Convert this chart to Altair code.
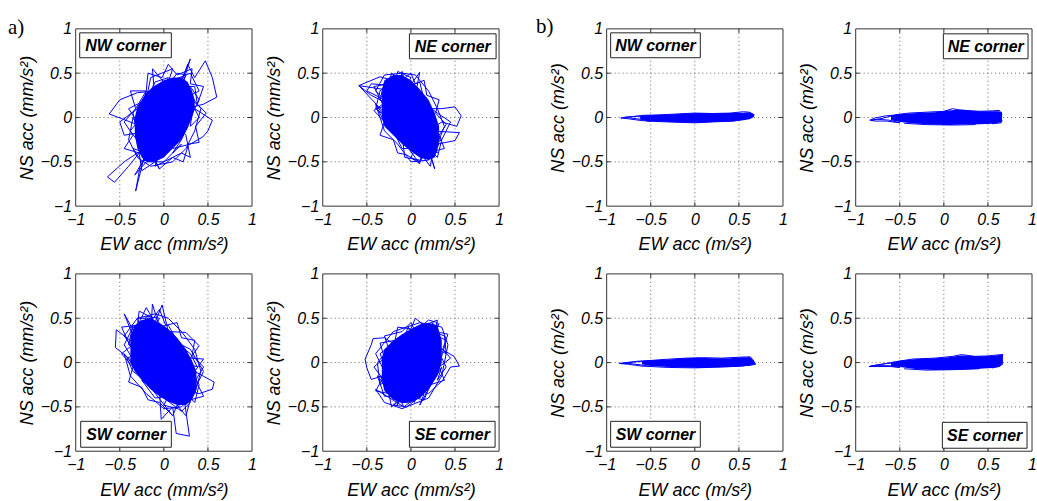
import altair as alt
import pandas as pd

# ---------------- data ----------------
tick_values = [-1, -0.5, 0, 0.5, 1]
grid_values = [-0.5, 0, 0.5]

# (a) mm/s^2 orbits  (x = EW, y = NS)
a_nw_traj = [(0.0,0.0),(0.15,0.3),(0.3,0.66),(0.22,0.4),(0.1,0.2),(-0.05,-0.1),(-0.2,-0.35),(-0.32,-0.83),
             (-0.27,-0.55),(-0.1,-0.3),(0.1,0.1),(0.27,0.6),(0.35,0.45),(0.47,0.64),(0.55,0.45),(0.6,0.23),
             (0.45,0.15),(0.25,0.1),(0.05,-0.1),(-0.15,-0.3),(-0.45,-0.5),(-0.64,-0.67),(-0.56,-0.73),(-0.4,-0.55),
             (-0.2,-0.3),(0.0,0.05),(0.15,0.2),(0.35,0.1),(0.55,-0.03),(0.5,-0.15),(0.44,-0.22),(0.3,-0.3),
             (0.1,-0.35),(-0.1,-0.25),(-0.33,-0.65),(-0.2,-0.5),(0.0,-0.5),(0.2,-0.4),(0.3,-0.45),(0.25,-0.2),
             (0.1,0.0),(-0.1,0.2),(-0.13,0.55),(0.0,0.4),(0.1,0.3),(0.2,0.45),(0.25,0.2),(0.05,-0.05),
             (-0.25,-0.1),(-0.62,0.04),(-0.5,0.2),(-0.3,0.28),(-0.1,0.3),(0.1,0.25),(0.3,0.35),(0.4,0.2),
             (0.3,0.0),(0.1,-0.2),(-0.15,-0.15),(-0.45,-0.2),(-0.5,-0.05),(-0.3,0.1),(-0.1,0.05),(0.05,0.1),
             (-0.3,-0.2),(-0.35,0.05),(-0.2,0.3),(-0.25,0.1),(-0.1,0.4),(0.05,0.45),(0.0,0.3),(0.15,0.5),
             (0.25,0.48),(0.2,0.35),(0.35,0.35),(0.38,0.15),(0.3,0.2),(0.4,0.0),(0.3,-0.1),(0.32,0.05),
             (0.2,-0.25),(0.1,-0.4),(0.2,-0.3),(0.0,-0.5),(-0.1,-0.55),(-0.05,-0.4),(-0.25,-0.5),(-0.35,-0.35),
             (-0.2,-0.4),(-0.38,-0.15),(-0.3,-0.05),(-0.4,0.1),(-0.2,0.2),(-0.15,0.45),(0.1,0.55),(0.05,0.4),
             (0.3,0.5),(0.4,0.3),(0.3,0.25),(0.42,0.1),(0.35,-0.15),(0.25,-0.35),(0.1,-0.5),(-0.15,-0.55),
             (-0.3,-0.45),(-0.4,-0.25),(-0.35,0.0),
             (-0.05,-0.58),(0.1,-0.45),(0.22,-0.5),(0.28,-0.3),(0.4,-0.28),(0.36,-0.1),(0.48,0.05),(0.38,0.15),
             (0.45,0.35),(0.3,0.38),(0.32,0.55),(0.15,0.48),(0.05,0.6),(-0.02,0.45),(-0.18,0.5),(-0.2,0.3),
             (-0.38,0.3),(-0.32,0.1),(-0.45,-0.05),(-0.35,-0.2),(-0.45,-0.35),(-0.28,-0.4),(-0.25,-0.6),(-0.1,-0.5),
             (-0.05,-0.58)]
a_nw_core_x = [-0.33, -0.3, -0.25, -0.2, -0.1, 0.0, 0.1, 0.2, 0.27, 0.32, 0.35]
a_nw_core_lo = [-0.2, -0.35, -0.45, -0.5, -0.5, -0.45, -0.35, -0.25, -0.12, 0.0, 0.1]
a_nw_core_hi = [0.0, 0.12, 0.2, 0.28, 0.36, 0.42, 0.45, 0.45, 0.4, 0.3, 0.2]

a_ne_traj = [(0.0,0.0),(-0.2,0.3),(-0.59,0.36),(-0.35,0.46),(-0.15,0.4),(0.0,0.1),(0.15,-0.2),(0.27,-0.58),
             (0.2,-0.35),(0.05,-0.1),(-0.15,0.2),(-0.1,0.52),(-0.05,0.3),(0.1,0.51),(0.05,0.25),(0.2,0.1),
             (0.35,0.1),(0.5,0.12),(0.57,0.02),(0.52,-0.1),(0.35,-0.05),(0.2,-0.15),(0.55,-0.17),(0.5,-0.26),
             (0.3,-0.3),(0.1,-0.48),(-0.07,-0.45),(-0.1,-0.2),(-0.3,0.05),(-0.59,0.36),(-0.45,0.25),(-0.25,0.15),
             (-0.05,0.0),(0.15,-0.3),(0.3,-0.4),(0.2,-0.1),(0.0,0.2),(-0.2,0.45),(-0.35,0.3),(-0.4,0.1),
             (-0.2,-0.05),(0.0,-0.25),(0.1,-0.4),(0.35,-0.25),(0.45,-0.05),(0.3,0.05),(0.1,0.2),(-0.1,0.35),
             (-0.45,0.38),(-0.5,0.3),(-0.3,0.2),(-0.05,0.05),(0.1,-0.1),
             (-0.35,0.2),(-0.3,0.4),(-0.2,0.3),(-0.15,0.52),(0.0,0.45),(-0.05,0.35),(0.1,0.4),(0.15,0.2),
             (0.05,0.25),(0.25,0.05),(0.3,-0.1),(0.2,-0.05),(0.35,-0.25),(0.3,-0.45),(0.2,-0.35),(0.1,-0.5),
             (0.0,-0.45),(0.05,-0.35),(-0.1,-0.35),(-0.2,-0.15),(-0.1,-0.2),(-0.3,-0.05),(-0.38,0.1),(-0.25,0.15),
             (-0.4,0.3),(-0.3,0.48),(-0.1,0.5),(0.05,0.48),(0.2,0.3),(0.3,0.1),(0.38,-0.1),(0.3,-0.3),
             (0.2,-0.48),(0.0,-0.5),(-0.15,-0.3),(-0.3,-0.15),(-0.4,0.15),
             (0.1,-0.52),(-0.05,-0.42),(-0.15,-0.4),(-0.2,-0.25),(-0.35,-0.2),(-0.3,-0.05),(-0.42,0.08),(-0.32,0.15),
             (-0.42,0.35),(-0.25,0.38),(-0.22,0.5),(-0.1,0.42),(0.0,0.5),(0.05,0.38),(0.15,0.42),(0.18,0.25),
             (0.32,0.2),(0.28,0.05),(0.4,-0.08),(0.32,-0.2),(0.38,-0.35),(0.25,-0.38),(0.22,-0.55),(0.12,-0.42),
             (0.1,-0.52)]
a_ne_core_x = [-0.33, -0.3, -0.2, -0.1, 0.0, 0.1, 0.2, 0.27, 0.32]
a_ne_core_lo = [0.0, -0.1, -0.2, -0.3, -0.38, -0.45, -0.48, -0.45, -0.3]
a_ne_core_hi = [0.3, 0.42, 0.48, 0.48, 0.42, 0.32, 0.2, 0.05, -0.1]

a_sw_traj = [(0.0,0.0),(-0.15,0.3),(-0.13,0.66),(-0.05,0.4),(0.05,0.1),(0.2,-0.2),(0.29,-0.83),(0.14,-0.8),
             (0.1,-0.5),(-0.03,-0.64),(-0.05,-0.3),(-0.2,0.1),(-0.45,0.55),(-0.35,0.3),(-0.2,0.62),(-0.1,0.45),
             (-0.02,0.65),(0.05,0.35),(0.25,0.34),(0.4,0.19),(0.3,0.05),(0.45,0.04),(0.35,-0.1),(0.57,-0.22),
             (0.55,-0.3),(0.4,-0.35),(0.2,-0.3),(0.0,-0.1),(-0.25,0.15),(-0.54,0.37),(-0.55,0.17),(-0.4,0.05),
             (-0.2,-0.15),(0.0,-0.4),(0.2,-0.55),(0.3,-0.45),(0.25,-0.2),(0.1,0.1),(-0.1,0.3),(-0.35,0.4),
             (-0.45,0.2),(-0.3,-0.05),(-0.1,-0.2),(0.1,-0.35),(0.35,-0.3),(0.45,-0.1),(0.3,0.15),(0.1,0.25),
             (-0.15,0.5),(-0.3,0.5),(-0.2,0.2),(0.0,0.0),
             (-0.4,0.2),(-0.35,0.42),(-0.25,0.35),(-0.2,0.52),(-0.05,0.5),(-0.1,0.4),(0.05,0.42),(0.15,0.25),
             (0.05,0.3),(0.3,0.1),(0.38,-0.05),(0.25,0.0),(0.4,-0.25),(0.35,-0.45),(0.25,-0.35),(0.15,-0.52),
             (0.0,-0.48),(0.05,-0.38),(-0.1,-0.4),(-0.25,-0.2),(-0.15,-0.25),(-0.35,-0.1),(-0.42,0.05),(-0.3,0.1),
             (-0.45,0.3),(-0.3,0.5),(-0.1,0.55),(0.05,0.5),(0.2,0.35),(0.35,0.15),(0.42,-0.1),(0.35,-0.35),
             (0.2,-0.5),(0.0,-0.52),(-0.2,-0.35),(-0.38,-0.15),(-0.45,0.1),
             (0.1,-0.6),(-0.05,-0.45),(-0.18,-0.42),(-0.25,-0.28),(-0.4,-0.22),(-0.35,-0.05),(-0.48,0.1),(-0.38,0.18),
             (-0.48,0.4),(-0.3,0.42),(-0.28,0.58),(-0.12,0.5),(-0.05,0.6),(0.02,0.42),(0.15,0.45),(0.2,0.28),
             (0.35,0.25),(0.32,0.08),(0.45,-0.05),(0.36,-0.2),(0.45,-0.38),(0.3,-0.42),(0.25,-0.6),(0.15,-0.48),
             (0.1,-0.6)]
a_sw_core_x = [-0.38, -0.33, -0.25, -0.15, -0.05, 0.05, 0.15, 0.25, 0.32, 0.37]
a_sw_core_lo = [0.0, -0.1, -0.2, -0.3, -0.38, -0.44, -0.48, -0.48, -0.42, -0.3]
a_sw_core_hi = [0.3, 0.42, 0.48, 0.5, 0.45, 0.38, 0.28, 0.15, 0.02, -0.1]

a_se_traj = [(0.0,0.0),(0.15,0.3),(0.32,0.44),(0.2,0.2),(0.05,-0.1),(-0.16,-0.49),(-0.1,-0.3),(0.04,-0.45),
             (0.1,-0.2),(0.25,0.1),(0.25,0.45),(0.15,0.25),(0.12,0.44),(0.0,0.2),(-0.15,-0.1),(-0.45,-0.19),
             (-0.5,-0.06),(-0.52,0.04),(-0.45,0.2),(-0.43,0.27),(-0.3,0.28),(-0.1,0.15),(0.1,0.05),(0.35,0.15),
             (0.49,0.07),(0.55,-0.04),(0.45,-0.05),(0.36,-0.2),(0.2,-0.35),(0.0,-0.3),(-0.2,-0.35),(-0.35,-0.2),
             (-0.2,0.0),(-0.03,0.4),(0.05,0.2),(0.2,0.0),(0.3,0.3),(0.4,0.25),(0.3,-0.1),(0.1,-0.4),
             (-0.1,-0.45),(-0.25,-0.15),(-0.35,0.1),(-0.15,0.25),(0.1,0.35),(0.2,0.1),(0.0,-0.05),
             (-0.35,-0.25),(-0.38,0.0),(-0.25,0.15),(-0.3,0.3),(-0.1,0.35),(0.0,0.45),(0.05,0.35),(0.2,0.48),
             (0.3,0.45),(0.25,0.35),(0.38,0.3),(0.4,0.1),(0.3,0.15),(0.4,-0.05),(0.3,-0.2),(0.35,-0.05),
             (0.2,-0.3),(0.1,-0.48),(0.15,-0.35),(-0.05,-0.5),(-0.2,-0.48),(-0.1,-0.38),(-0.3,-0.38),(-0.38,-0.15),
             (-0.25,-0.2),(-0.4,0.1),(-0.2,0.35),(0.1,0.45),(0.35,0.4),(0.42,0.2),(0.35,-0.15),(0.2,-0.4),
             (-0.1,-0.52),(-0.3,-0.45),(-0.4,-0.3),
             (-0.08,-0.5),(0.05,-0.4),(0.15,-0.42),(0.22,-0.25),(0.38,-0.2),(0.32,-0.05),(0.45,0.05),(0.36,0.15),
             (0.42,0.32),(0.28,0.35),(0.3,0.48),(0.15,0.42),(0.05,0.5),(0.0,0.38),(-0.15,0.4),(-0.18,0.25),
             (-0.35,0.22),(-0.3,0.05),(-0.42,-0.05),(-0.32,-0.18),(-0.4,-0.32),(-0.25,-0.35),(-0.22,-0.5),(-0.12,-0.42),
             (-0.08,-0.5)]
a_se_core_x = [-0.33, -0.3, -0.2, -0.1, 0.0, 0.1, 0.2, 0.3, 0.35]
a_se_core_lo = [-0.2, -0.32, -0.42, -0.46, -0.45, -0.4, -0.3, -0.15, 0.0]
a_se_core_hi = [0.05, 0.15, 0.25, 0.32, 0.38, 0.43, 0.45, 0.42, 0.25]

# (b) m/s^2 orbits
b_nw_traj = [(-0.5,0.02),(-0.65,0.015),(-0.78,0.005),(-0.84,-0.005),(-0.75,-0.015),(-0.6,-0.035),(-0.5,-0.04),
             (-0.62,-0.02),(-0.74,-0.005),(-0.8,0.0),(-0.7,0.01),(-0.58,0.025),(-0.4,0.03),(-0.2,0.04),(0.0,0.05),
             (0.2,0.045),(0.4,0.05),(0.55,0.065),(0.62,0.06),(0.675,0.03),(0.64,0.0),(0.55,-0.02),(0.6,0.03),
             (0.66,0.02),(0.6,-0.01),(0.45,-0.04),(0.2,-0.05),(0.0,-0.06),(-0.3,-0.05),(-0.55,-0.04)]
b_nw_core_x = [-0.62, -0.5, -0.3, -0.1, 0.05, 0.2, 0.4, 0.55, 0.62, 0.67]
b_nw_core_lo = [-0.02, -0.04, -0.05, -0.055, -0.06, -0.05, -0.045, -0.03, -0.02, 0.005]
b_nw_core_hi = [0.015, 0.025, 0.035, 0.045, 0.05, 0.05, 0.05, 0.055, 0.06, 0.035]

b_ne_traj = [(-0.5,0.03),(-0.65,0.02),(-0.78,-0.005),(-0.84,-0.03),(-0.78,-0.04),(-0.65,-0.04),(-0.5,-0.06),
             (-0.62,-0.03),(-0.75,-0.02),(-0.82,-0.03),(-0.7,-0.01),(-0.55,0.03),(-0.4,0.05),(-0.2,0.06),(0.0,0.07),
             (0.1,0.1),(0.2,0.08),(0.4,0.07),(0.55,0.075),(0.63,0.08),(0.66,0.03),(0.62,0.0),(0.66,-0.03),
             (0.65,-0.06),(0.55,-0.07),(0.6,-0.03),(0.5,0.0),(0.35,-0.08),(0.1,-0.085),(-0.2,-0.08),(-0.45,-0.065)]
b_ne_core_x = [-0.6, -0.5, -0.3, -0.1, 0.05, 0.2, 0.4, 0.55, 0.62, 0.66]
b_ne_core_lo = [-0.03, -0.05, -0.07, -0.08, -0.085, -0.08, -0.075, -0.07, -0.06, -0.05]
b_ne_core_hi = [0.02, 0.04, 0.05, 0.06, 0.08, 0.09, 0.07, 0.07, 0.07, 0.06]

b_sw_traj = [(-0.5,0.02),(-0.65,0.015),(-0.78,0.0),(-0.86,-0.01),(-0.75,-0.02),(-0.6,-0.04),(-0.5,-0.045),
             (-0.62,-0.025),(-0.75,-0.01),(-0.82,-0.01),(-0.7,0.005),(-0.55,0.02),(-0.35,0.035),(-0.1,0.05),
             (0.1,0.055),(0.3,0.05),(0.5,0.06),(0.63,0.065),(0.66,0.03),(0.69,-0.02),(0.6,-0.035),(0.5,-0.02),
             (0.62,0.0),(0.66,-0.01),(0.55,-0.04),(0.3,-0.05),(0.0,-0.06),(-0.3,-0.055),(-0.5,-0.045)]
b_sw_core_x = [-0.6, -0.5, -0.3, -0.1, 0.05, 0.2, 0.4, 0.55, 0.63, 0.68]
b_sw_core_lo = [-0.02, -0.04, -0.05, -0.055, -0.06, -0.055, -0.05, -0.04, -0.03, -0.02]
b_sw_core_hi = [0.015, 0.025, 0.035, 0.05, 0.055, 0.05, 0.05, 0.06, 0.06, 0.0]

b_se_traj = [(-0.5,0.0),(-0.65,-0.01),(-0.78,-0.03),(-0.85,-0.045),(-0.75,-0.045),(-0.6,-0.045),(-0.5,-0.055),
             (-0.62,-0.035),(-0.75,-0.035),(-0.83,-0.04),(-0.7,-0.02),(-0.55,0.01),(-0.35,0.04),(-0.1,0.05),
             (0.1,0.07),(0.2,0.09),(0.35,0.07),(0.5,0.075),(0.6,0.085),(0.67,0.09),(0.64,0.04),(0.6,0.0),
             (0.63,-0.04),(0.55,-0.06),(0.6,-0.02),(0.66,0.06),(0.5,0.02),(0.4,-0.07),(0.1,-0.08),(-0.2,-0.085),
             (-0.45,-0.07)]
b_se_core_x = [-0.6, -0.5, -0.3, -0.1, 0.05, 0.2, 0.4, 0.55, 0.63, 0.67]
b_se_core_lo = [-0.04, -0.05, -0.075, -0.085, -0.085, -0.08, -0.07, -0.06, -0.05, -0.02]
b_se_core_hi = [0.0, 0.02, 0.04, 0.05, 0.06, 0.08, 0.07, 0.075, 0.085, 0.09]

# ---------------- style ----------------
BLUE = "#0000ff"
PW, PH = 177, 178
FONT = "Liberation Sans"


def make_panel(traj, cx, clo, chi, unit, label, box, view_w, tag=None, tag_x=0, tag_y=0, anchor=False):
    tdf = pd.DataFrame(traj, columns=["x", "y"])
    tdf["i"] = range(len(tdf))
    cdf = pd.DataFrame({"x": cx, "lo": clo, "hi": chi})
    gdf = pd.DataFrame({"g": grid_values})
    one = pd.DataFrame({"t": [label]})

    xs = alt.Scale(domain=[-1, 1], range=[0, PW], nice=False, zero=False)
    ys = alt.Scale(domain=[-1, 1], nice=False, zero=False)
    common = dict(values=tick_values, format="~g", grid=False, domain=False, ticks=False, tickSize=0,
                  labelFlush=False, labelOverlap=False, labelFont=FONT, labelFontStyle="italic",
                  labelFontSize=16, labelColor="black", titleFont=FONT, titleFontStyle="italic",
                  titleFontWeight="normal", titleFontSize=18, titleColor="black",
                  titleBaseline="alphabetic")
    xaxis = alt.Axis(title=f"EW acc ({unit}/s²)", labelPadding=5, titleX=PW / 2, titleY=44, **common)
    yaxis = alt.Axis(title=f"NS acc ({unit}/s²)", labelPadding=4, titleX=-43, titleY=PH / 2, **common)

    def X(f):
        return alt.X(f, scale=xs, axis=xaxis)

    def Y(f):
        return alt.Y(f, scale=ys, axis=yaxis)

    grid_v = alt.Chart(gdf).mark_rule(color="#666", strokeDash=[1, 3], strokeWidth=1).encode(
        x=X("g:Q"), y=alt.value(0), y2=alt.value(PH))
    grid_h = alt.Chart(gdf).mark_rule(color="#666", strokeDash=[1, 3], strokeWidth=1).encode(
        y=Y("g:Q"), x=alt.value(0), x2=alt.value(PW))
    core = alt.Chart(cdf).mark_area(color=BLUE, opacity=1).encode(
        x=X("x:Q"), y=Y("lo:Q"), y2="hi:Q")
    line = alt.Chart(tdf).mark_line(color=BLUE, strokeWidth=1).encode(
        x=X("x:Q"), y=Y("y:Q"), order="i:Q")
    frame = alt.Chart(one).mark_rect(fillOpacity=0, stroke="#333", strokeWidth=1).encode(
        x=alt.value(0), x2=alt.value(PW), y=alt.value(0), y2=alt.value(PH))
    tk = dict(color="#333", strokeWidth=1)
    t_top = alt.Chart(gdf).mark_rule(**tk).encode(x=X("g:Q"), y=alt.value(0), y2=alt.value(4))
    t_bot = alt.Chart(gdf).mark_rule(**tk).encode(x=X("g:Q"), y=alt.value(PH - 4), y2=alt.value(PH))
    t_lft = alt.Chart(gdf).mark_rule(**tk).encode(y=Y("g:Q"), x=alt.value(0), x2=alt.value(4))
    t_rgt = alt.Chart(gdf).mark_rule(**tk).encode(y=Y("g:Q"), x=alt.value(PW - 4), x2=alt.value(PW))
    bx0, bx1, by0, by1 = box
    brect = alt.Chart(one).mark_rect(fill="white", stroke="#222", strokeWidth=1).encode(
        x=alt.value(bx0), x2=alt.value(bx1), y=alt.value(by0), y2=alt.value(by1))
    btext = alt.Chart(one).mark_text(font=FONT, fontWeight="bold", fontStyle="italic", fontSize=16,
                                     align="center", baseline="middle", color="black").encode(
        x=alt.value((bx0 + bx1) / 2), y=alt.value((by0 + by1) / 2 + 1), text="t:N")
    layers = [grid_v, grid_h, core, line, frame, t_top, t_bot, t_lft, t_rgt, brect, btext]
    if tag:
        tdf2 = pd.DataFrame({"t": [tag]})
        layers.append(alt.Chart(tdf2).mark_text(font="Liberation Serif", fontSize=21, align="left",
                                                baseline="alphabetic", color="black").encode(
            x=alt.value(tag_x), y=alt.value(tag_y), text="t:N"))
    if anchor:
        layers.append(alt.Chart(one).mark_rule(opacity=0, strokeWidth=0.01).encode(
            x=alt.value(-76), x2=alt.value(-75), y=alt.value(-28), y2=alt.value(-27)))
    return alt.layer(*layers).properties(width=view_w, height=PH)


p1 = make_panel(a_nw_traj, a_nw_core_x, a_nw_core_lo, a_nw_core_hi, "mm", "NW corner",
                (4, 96, 4, 29), PW, tag="a)", tag_x=-68, tag_y=5, anchor=True)
p2 = make_panel(a_ne_traj, a_ne_core_x, a_ne_core_lo, a_ne_core_hi, "mm", "NE corner",
                (87, 174, 5, 30), PW + 37)
p3 = make_panel(b_nw_traj, b_nw_core_x, b_nw_core_lo, b_nw_core_hi, "m", "NW corner",
                (4, 94, 4, 29), PW + 2, tag="b)", tag_x=-71, tag_y=4)
p4 = make_panel(b_ne_traj, b_ne_core_x, b_ne_core_lo, b_ne_core_hi, "m", "NE corner",
                (88, 173, 5, 30), PW)
p5 = make_panel(a_sw_traj, a_sw_core_x, a_sw_core_lo, a_sw_core_hi, "mm", "SW corner",
                (5, 96, 148, 174), PW)
p6 = make_panel(a_se_traj, a_se_core_x, a_se_core_lo, a_se_core_hi, "mm", "SE corner",
                (87, 173, 148, 174), PW + 37)
p7 = make_panel(b_sw_traj, b_sw_core_x, b_sw_core_lo, b_sw_core_hi, "m", "SW corner",
                (4, 94, 148, 174), PW + 2)
p8 = make_panel(b_se_traj, b_se_core_x, b_se_core_lo, b_se_core_hi, "m", "SE corner",
                (87, 172, 149, 175), PW)

chart = alt.concat(p1, p2, p3, p4, p5, p6, p7, p8, columns=4,
                   spacing={"row": 68, "column": 71}, bounds="flush", align="each") \
    .properties(padding=0) \
    .configure_view(stroke=None)

chart.save("out.html", embed_options={"renderer": "svg", "actions": False})
